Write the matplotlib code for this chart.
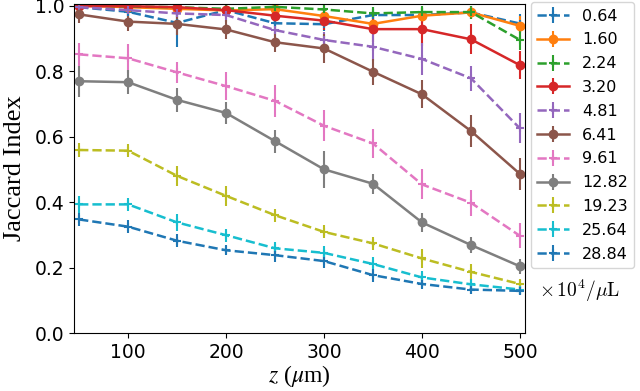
import numpy as np
import matplotlib
matplotlib.use('Agg')
import matplotlib.pyplot as plt

plt.rcParams['mathtext.fontset'] = 'stix'

z = [50, 100, 150, 200, 250, 300, 350, 400, 450, 500]
labels = ['0.64', '1.60', '2.24', '3.20', '4.81', '6.41', '9.61', '12.82', '19.23', '25.64', '28.84']

# mean Jaccard index per concentration
j_064 = [0.995, 0.981, 0.947, 0.986, 0.946, 0.943, 0.971, 0.971, 0.979, 0.945]
j_160 = [1.0, 0.995, 0.99, 0.985, 0.989, 0.968, 0.944, 0.969, 0.979, 0.938]
j_224 = [1.0, 0.997, 0.995, 0.99, 0.996, 0.988, 0.976, 0.98, 0.98, 0.895]
j_320 = [0.998, 0.998, 0.995, 0.986, 0.969, 0.954, 0.928, 0.928, 0.897, 0.818]
j_481 = [0.995, 0.986, 0.976, 0.971, 0.925, 0.895, 0.874, 0.837, 0.778, 0.625]
j_641 = [0.973, 0.951, 0.944, 0.927, 0.888, 0.869, 0.798, 0.729, 0.617, 0.486]
j_961 = [0.851, 0.839, 0.796, 0.754, 0.709, 0.633, 0.579, 0.454, 0.398, 0.297]
j_1282 = [0.769, 0.766, 0.712, 0.672, 0.586, 0.50, 0.456, 0.338, 0.269, 0.204]
j_1923 = [0.559, 0.557, 0.48, 0.419, 0.36, 0.309, 0.274, 0.228, 0.187, 0.15]
j_2564 = [0.393, 0.393, 0.338, 0.299, 0.259, 0.245, 0.211, 0.17, 0.149, 0.133]
j_2884 = [0.347, 0.325, 0.282, 0.253, 0.238, 0.22, 0.177, 0.15, 0.133, 0.129]

# standard deviations (error bars)
e_064 = [0.01, 0.02, 0.075, 0.015, 0.02, 0.02, 0.025, 0.025, 0.02, 0.03]
e_160 = [0.005, 0.01, 0.01, 0.015, 0.015, 0.02, 0.025, 0.025, 0.02, 0.03]
e_224 = [0.005, 0.01, 0.01, 0.01, 0.01, 0.015, 0.02, 0.02, 0.02, 0.03]
e_320 = [0.01, 0.01, 0.015, 0.02, 0.02, 0.03, 0.04, 0.05, 0.046, 0.043]
e_481 = [0.01, 0.015, 0.02, 0.02, 0.025, 0.025, 0.043, 0.048, 0.038, 0.046]
e_641 = [0.025, 0.03, 0.035, 0.03, 0.03, 0.043, 0.04, 0.043, 0.05, 0.048]
e_961 = [0.036, 0.045, 0.033, 0.043, 0.048, 0.048, 0.043, 0.046, 0.04, 0.038]
e_1282 = [0.047, 0.037, 0.037, 0.034, 0.035, 0.057, 0.03, 0.028, 0.023, 0.023]
e_1923 = [0.02, 0.02, 0.03, 0.03, 0.02, 0.02, 0.02, 0.03, 0.025, 0.015]
e_2564 = [0.027, 0.02, 0.025, 0.02, 0.02, 0.02, 0.02, 0.02, 0.015, 0.015]
e_2884 = [0.02, 0.02, 0.02, 0.015, 0.02, 0.02, 0.02, 0.015, 0.015, 0.012]

means = [j_064, j_160, j_224, j_320, j_481, j_641, j_961, j_1282, j_1923, j_2564, j_2884]
errs = [e_064, e_160, e_224, e_320, e_481, e_641, e_961, e_1282, e_1923, e_2564, e_2884]
solid = ['1.60', '3.20', '6.41', '12.82']

fig = plt.figure(figsize=(6.4, 3.91), dpi=100)
ax = fig.add_axes([0.116, 0.148, 0.704, 0.842])

for lab, m, e in zip(labels, means, errs):
    if lab in solid:
        ax.errorbar(z, m, yerr=e, fmt='-o', lw=1.8, ms=6, elinewidth=1.5, label=lab)
    else:
        ax.errorbar(z, m, yerr=e, fmt='--+', lw=1.8, ms=6, mew=1.5, elinewidth=1.5, label=lab)

ax.set_xlim(45, 505)
ax.set_ylim(0, 1.005)
ax.set_xticks([100, 200, 300, 400, 500])
ax.set_yticks([0, 0.2, 0.4, 0.6, 0.8, 1.0])
ax.tick_params(labelsize=13.5)
ax.set_ylabel('Jaccard Index', family='Liberation Serif', fontsize=19, labelpad=6)
ax.set_xlabel(r'$z$ ($\mu$m)', family='Liberation Serif', fontsize=17, labelpad=1)

ax.legend(loc='upper left', bbox_to_anchor=(1.013, 1.005), fontsize=11.5,
          handlelength=2.0, labelspacing=0.55, borderaxespad=0)
fig.text(0.905, 0.255, r'$\times\,10^4/\mu\mathrm{L}$', ha='center', va='center',
         fontsize=14, math_fontfamily='cm')

plt.savefig('out.png')
